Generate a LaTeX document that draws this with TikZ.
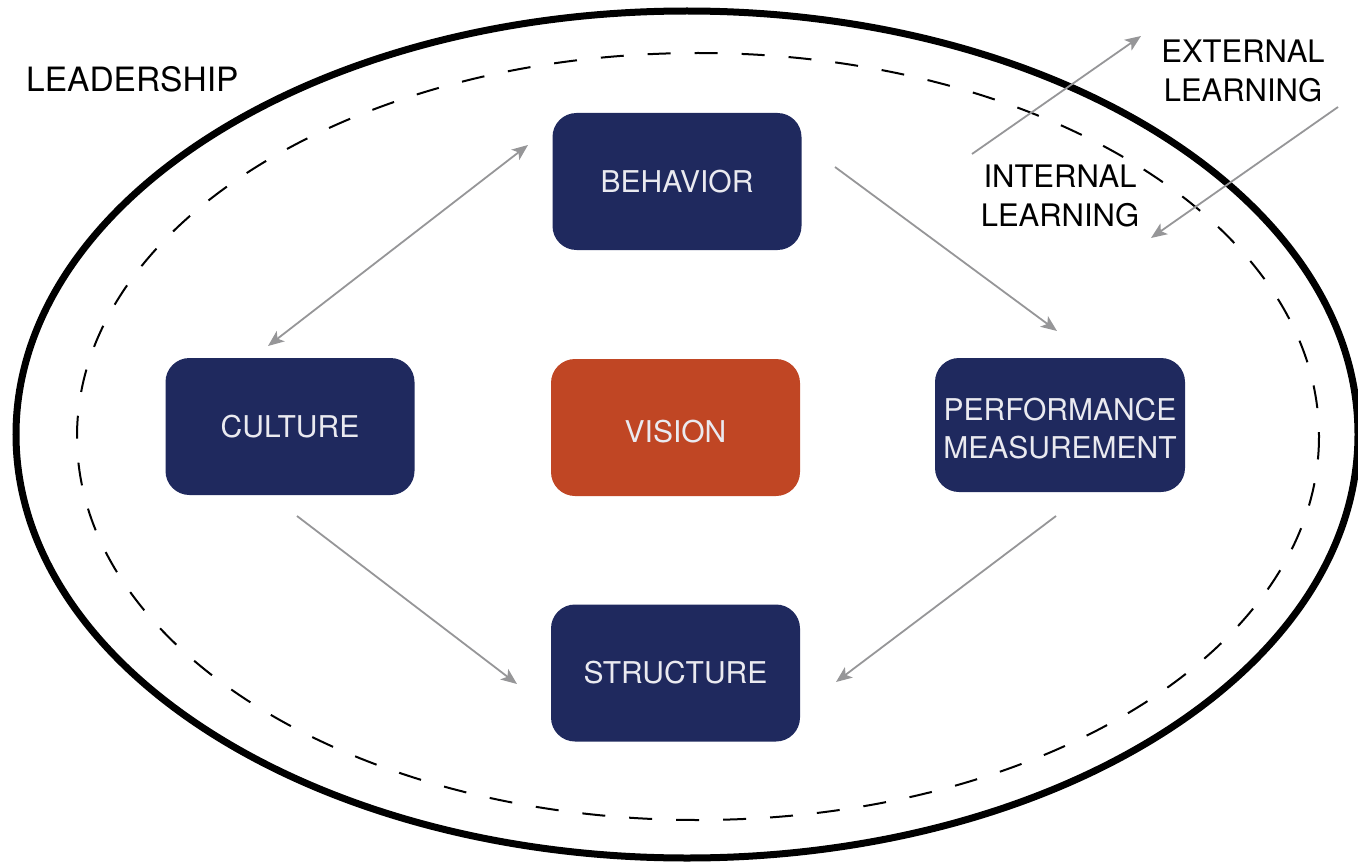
\documentclass[tikz,border=0pt]{standalone}
\usepackage{fontspec}
\setmainfont{TeX Gyre Heros}
\usetikzlibrary{arrows.meta}
\definecolor{navy}{RGB}{31,41,94}
\definecolor{rust}{RGB}{192,70,36}
\definecolor{boxtext}{RGB}{234,234,240}
\definecolor{arrowgray}{RGB}{150,150,152}
\tikzset{
  card/.style={draw=none, fill=navy, rounded corners=24pt, minimum width=249pt, minimum height=137pt,
    text=boxtext, font=\fontsize{30}{38}\selectfont, align=center, inner sep=0pt},
  visioncard/.style={card, fill=rust},
  label/.style={font=\fontsize{31}{39}\selectfont, align=center, inner sep=0pt, text=black},
  conn/.style={draw=arrowgray, line width=1.8pt, -{Stealth[length=16pt,width=13pt,inset=4pt]}},
  bothconn/.style={conn, {Stealth[length=16pt,width=13pt,inset=4pt]}-{Stealth[length=16pt,width=13pt,inset=4pt]}}
}
\begin{document}
\begin{tikzpicture}[x=1pt,y=-1pt]
\useasboundingbox (0,0) rectangle (1358,864);
% ellipses
\draw[line width=7pt] (687,434.5) ellipse [x radius=671, y radius=423.5];
\draw[line width=2pt, dash pattern=on 23pt off 24pt] (698,436.5) ellipse [x radius=621, y radius=383.5];
% boxes
\node[card] (beh) at (677,181.5) {BEHAVIOR};
\node[card] (cul) at (290,426.5) {CULTURE};
\node[visioncard] (vis) at (675.5,427.5) {\rule{0pt}{30pt}VISION};
\node[card, minimum width=250pt, minimum height=134pt] (perf) at (1060,425) {\rule{0pt}{30pt}PERFORMANCE\\MEASUREMENT};
\node[card] (str) at (675.5,673) {STRUCTURE};
% labels
\node[label, font=\fontsize{33.5}{38}\selectfont, anchor=west] (lead) at (26,79) {LEADERSHIP};
\node[label] (ext) at (1243,70.5) {EXTERNAL\\LEARNING};
\node[label] (int) at (1060,195.5) {INTERNAL\\LEARNING};
% connector end points
\coordinate (bc1) at (528,145);
\coordinate (bc2) at (268,346);
\coordinate (bp1) at (835,167);
\coordinate (bp2) at (1057,331);
\coordinate (cs1) at (297,516);
\coordinate (cs2) at (517,684);
\coordinate (ps1) at (1056,516);
\coordinate (ps2) at (836,682);
\coordinate (ex1) at (972,154);
\coordinate (ex2) at (1141,36);
\coordinate (in1) at (1338,107);
\coordinate (in2) at (1151,238);
% connectors
\draw[bothconn] (bc2) -- (bc1);
\draw[conn] (bp1) -- (bp2);
\draw[conn] (cs1) -- (cs2);
\draw[conn] (ps1) -- (ps2);
\draw[conn] (ex1) -- (ex2);
\draw[conn] (in1) -- (in2);
\end{tikzpicture}
\end{document}
